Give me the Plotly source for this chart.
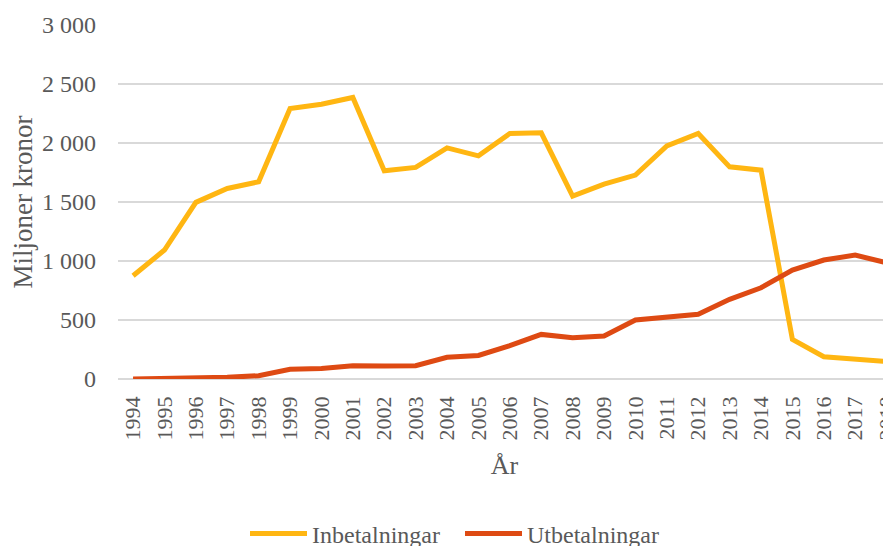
import plotly.graph_objects as go

years = list(range(1994, 2019))
inbetalningar = [875, 1093, 1497, 1615, 1671, 2293, 2329, 2386, 1764, 1793, 1959, 1891,
                 2081, 2086, 1550, 1652, 1728, 1976, 2081, 1798, 1770, 336, 189, 169, 147]
utbetalningar = [0, 2, 6, 14, 28, 82, 90, 113, 110, 113, 184, 200,
                 282, 378, 350, 364, 500, 519, 548, 675, 773, 923, 1008, 1050, 985]
y_ticks = [0, 500, 1000, 1500, 2000, 2500, 3000]

FONT = "Liberation Serif"
GRAY = "#595959"

# page body has an 8px margin, so the figure is 8px smaller than the window
W, H = 883, 538

fig = go.Figure()
fig.add_trace(go.Scatter(x=years, y=inbetalningar, mode="lines", name="Inbetalningar",
                         line=dict(color="#FFB612", width=5)))
fig.add_trace(go.Scatter(x=years, y=utbetalningar, mode="lines", name="Utbetalningar",
                         line=dict(color="#DE4A13", width=5)))

fig.update_layout(
    width=W, height=H,
    margin=dict(l=110, r=0, t=17, b=167, autoexpand=False),
    paper_bgcolor="white", plot_bgcolor="white",
    separators=", ",
    font=dict(family=FONT, color=GRAY, size=22),
    showlegend=True,
    legend=dict(orientation="h", xref="container", yref="container",
                x=237 / W, xanchor="left", y=12 / H, yanchor="middle",
                font=dict(size=24, color=GRAY), itemwidth=57, tracegroupgap=0,
                entrywidth=143, entrywidthmode="pixels"),
    xaxis=dict(
        range=[1993.52, 2018.14], tickmode="array", tickvals=years,
        ticktext=[str(y) for y in years], tickangle=-90, automargin=False,
        tickfont=dict(size=22, color=GRAY), showgrid=False, zeroline=False,
        showline=False, ticks="", ticklabelstandoff=12, ticklabeloverflow="allow",
        title=dict(text="År", font=dict(size=26, color=GRAY), standoff=16),
    ),
    yaxis=dict(
        range=[0, 3000], tickmode="array", tickvals=y_ticks, tickformat=",.0f",
        tickfont=dict(size=24, color=GRAY), showgrid=True, gridcolor="#D9D9D9",
        gridwidth=1.5, zeroline=True, zerolinecolor="#D9D9D9", zerolinewidth=1.5,
        showline=False, ticks="", ticklabelstandoff=21, automargin=False,
        title=dict(text="Miljoner kronor", font=dict(size=27, color=GRAY), standoff=3),
    ),
)

fig.write_html("out.html")
